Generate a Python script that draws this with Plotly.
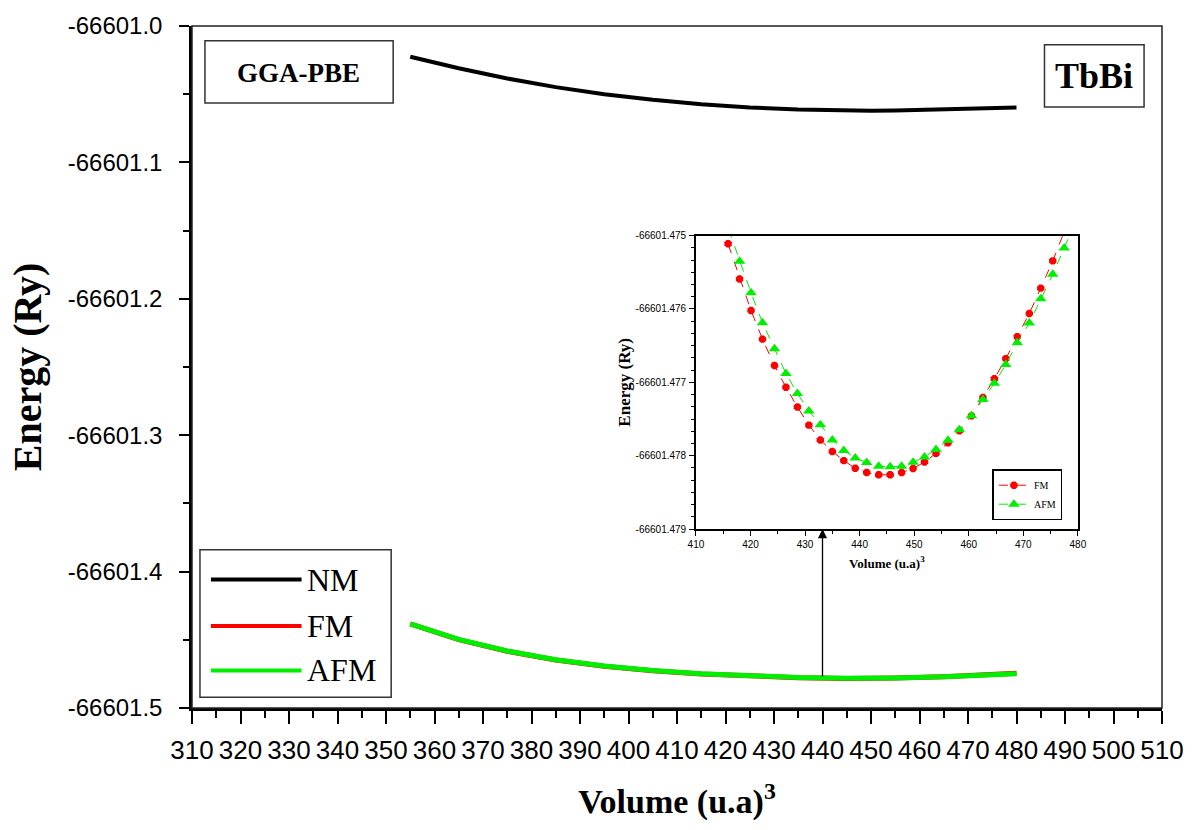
import plotly.graph_objects as go

# ---------------- data ----------------
# main panel: volume (u.a)^3 and energy (Ry)
vol_main = [355, 365, 375, 385, 395, 405, 415, 425, 435, 445, 450, 455, 465, 475, 480]
e_nm = [-66601.0225, -66601.0310, -66601.0385, -66601.0448, -66601.0500, -66601.0541,
        -66601.0573, -66601.0597, -66601.0612, -66601.0620, -66601.0622, -66601.0620,
        -66601.0612, -66601.0602, -66601.0597]
e_fm = [-66601.4384, -66601.4499, -66601.4584, -66601.4648, -66601.4694, -66601.4727,
        -66601.4750, -66601.4767, -66601.4778, -66601.4783, -66601.4783, -66601.4780,
        -66601.4770, -66601.4754, -66601.4745]
e_afm = [-66601.4384, -66601.4497, -66601.4582, -66601.4646, -66601.4692, -66601.4725,
         -66601.4748, -66601.4765, -66601.4777, -66601.4782, -66601.4782, -66601.4780,
         -66601.4771, -66601.4756, -66601.4748]

# inset panel
vol_inset = [413.8, 415.9, 418.0, 420.1, 422.2, 424.4, 426.5, 428.6, 430.7, 432.8, 435.0,
             437.1, 439.2, 441.3, 443.5, 445.6, 447.7, 449.8, 451.9, 454.0, 456.2,
             458.3, 460.5, 462.6, 464.7, 466.8, 468.9, 471.1, 473.2, 475.4, 477.5, 479.6]
e_fm_inset = [-66601.474660, -66601.475112, -66601.475592, -66601.476022, -66601.476412,
              -66601.476771, -66601.477067, -66601.477336, -66601.477583, -66601.477785,
              -66601.477942, -66601.478067, -66601.478170, -66601.478228, -66601.478260,
              -66601.478260, -66601.478228, -66601.478175, -66601.478085, -66601.477968,
              -66601.477825, -66601.477659, -66601.477457, -66601.477206, -66601.476951,
              -66601.476677, -66601.476377, -66601.476063, -66601.475717, -66601.475345,
              -66601.474950, -66601.474520]
e_afm_inset = [-66601.474450, -66601.474900, -66601.475350, -66601.475780, -66601.476188,
               -66601.476543, -66601.476879, -66601.477152, -66601.477390, -66601.477578,
               -66601.477785, -66601.477928, -66601.478031, -66601.478094, -66601.478143,
               -66601.478152, -66601.478143, -66601.478089, -66601.478018, -66601.477915,
               -66601.477789, -66601.477646, -66601.477457, -66601.477233, -66601.477013,
               -66601.476758, -66601.476462, -66601.476193, -66601.475861, -66601.475529,
               -66601.475170, -66601.474800]

y_tick_vals = [-66601.5, -66601.4, -66601.3, -66601.2, -66601.1, -66601.0]
y_tick_text = ["-66601.5", "-66601.4", "-66601.3", "-66601.2", "-66601.1", "-66601.0"]
y2_tick_vals = [-66601.479, -66601.478, -66601.477, -66601.476, -66601.475]
y2_tick_text = ["-66601.479", "-66601.478", "-66601.477", "-66601.476", "-66601.475"]

arrow_volume = 440
arrow_from = -66601.478
arrow_to = -66601.3688

SERIF = "Liberation Serif, Times New Roman, serif"
SANS = "Liberation Sans, Arial, sans-serif"

fig = go.Figure()

fig.add_trace(go.Scatter(x=vol_main, y=e_nm, mode="lines", name="NM",
                         line=dict(color="black", width=4), showlegend=False))
fig.add_trace(go.Scatter(x=vol_main, y=e_fm, mode="lines", name="FM",
                         line=dict(color="#ff0000", width=5), showlegend=False))
fig.add_trace(go.Scatter(x=vol_main, y=e_afm, mode="lines", name="AFM",
                         line=dict(color="#00ee00", width=5), showlegend=False))

fig.add_trace(go.Scatter(x=vol_inset, y=e_fm_inset, mode="lines+markers", name="FM",
                         xaxis="x2", yaxis="y2", legend="legend2", cliponaxis=True,
                         line=dict(color="#ff0000", width=1, dash="dash"),
                         marker=dict(symbol="octagon", size=8, color="#ff0000")))
fig.add_trace(go.Scatter(x=vol_inset, y=e_afm_inset, mode="lines+markers", name="AFM",
                         xaxis="x2", yaxis="y2", legend="legend2", cliponaxis=True,
                         line=dict(color="#00ee00", width=1, dash="dash"),
                         marker=dict(symbol="triangle-up", size=10, color="#00ee00")))

# paper-coordinate helpers (plot area px 192..1166 x 18..708)
def px(xp):
    return (xp - 192) / 974.0

def py(yp):
    return (708 - yp) / 690.0

shapes = [
    dict(type="rect", xref="paper", yref="paper", x0=0, x1=1, y0=0, y1=1,
         line=dict(color="#222", width=1.5)),
    dict(type="rect", xref="paper", yref="paper", x0=px(205), x1=px(394), y0=py(96), y1=py(33),
         line=dict(color="#333", width=1.5)),
    dict(type="rect", xref="paper", yref="paper", x0=px(1048), x1=px(1148), y0=py(100), y1=py(37),
         line=dict(color="#333", width=1.5)),
    dict(type="rect", xref="paper", yref="paper", x0=px(200), x1=px(392), y0=py(697), y1=py(548),
         line=dict(color="#333", width=1.5)),
]
legend_items = [("NM", "black", 578), ("FM", "#ff0000", 625), ("AFM", "#00ee00", 670)]
annotations = []
for name, col, yp in legend_items:
    shapes.append(dict(type="line", xref="paper", yref="paper", x0=px(211), x1=px(302),
                       y0=py(yp), y1=py(yp), line=dict(color=col, width=4)))
    annotations.append(dict(xref="paper", yref="paper", x=px(305), y=py(yp), text=name,
                            showarrow=False, xanchor="left", yanchor="middle",
                            font=dict(family=SERIF, size=32, color="black")))

annotations += [
    dict(xref="paper", yref="paper", x=px(299), y=py(66), text="<b>GGA-PBE</b>",
         showarrow=False, xanchor="center", yanchor="middle",
         font=dict(family=SERIF, size=27, color="black")),
    dict(xref="paper", yref="paper", x=px(1098), y=py(69), text="<b>TbBi</b>",
         showarrow=False, xanchor="center", yanchor="middle",
         font=dict(family=SERIF, size=36, color="black")),
    dict(x=arrow_volume, y=arrow_to, ax=arrow_volume, ay=arrow_from, xref="x", yref="y",
         axref="x", ayref="y", text="", showarrow=True, arrowhead=2, arrowsize=1.4,
         arrowwidth=1.3, arrowcolor="black", standoff=0),
]

fig.update_layout(
    width=1196, height=830,
    margin=dict(l=192, r=30, t=18, b=122),
    paper_bgcolor="white", plot_bgcolor="white",
    shapes=shapes, annotations=annotations,
    xaxis=dict(range=[310, 510], dtick=10, tick0=310, showgrid=False, zeroline=False,
               showline=True, linewidth=2.5, linecolor="black", mirror=False,
               ticks="outside", ticklen=13, tickwidth=2.2, tickcolor="black",
               ticklabelstandoff=4,
               minor=dict(ticks="outside", ticklen=7, tickwidth=2, tickcolor="black",
                          dtick=5, tick0=310),
               tickfont=dict(family=SANS, size=26, color="black"),
               title=dict(text="<b>Volume (u.a)<sup>3</sup></b>", standoff=26,
                          font=dict(family=SERIF, size=34, color="black"))),
    yaxis=dict(range=[-66601.5, -66601.0], tickmode="array", tickvals=y_tick_vals,
               ticktext=y_tick_text, showgrid=False, zeroline=False,
               showline=True, linewidth=2.5, linecolor="black", mirror=False,
               ticks="outside", ticklen=10, tickwidth=2, tickcolor="black",
               ticklabelstandoff=12,
               minor=dict(ticks="outside", ticklen=6, tickwidth=2, tickcolor="black",
                          tickmode="linear", dtick=0.05, tick0=-66601.5),
               tickfont=dict(family=SANS, size=24, color="black"),
               title=dict(text="<b>Energy (Ry)</b>", standoff=14,
                          font=dict(family=SERIF, size=40, color="black"))),
    xaxis2=dict(domain=[px(698), px(1081.5)], anchor="y2", range=[410, 480], dtick=10,
                showgrid=False, zeroline=False, showline=True, linewidth=1.5,
                linecolor="black", mirror=True, ticks="outside", ticklen=5, tickwidth=1.2,
                tickcolor="black",
                minor=dict(ticks="outside", ticklen=3, tickwidth=1, dtick=5, tick0=410,
                           tickcolor="black"),
                tickfont=dict(family=SANS, size=10, color="black"),
                title=dict(text="<b>Volume (u.a)<sup>3</sup></b>", standoff=10,
                           font=dict(family=SERIF, size=13, color="black"))),
    yaxis2=dict(domain=[py(527), py(230)], anchor="x2", range=[-66601.479, -66601.475],
                tickmode="array", tickvals=y2_tick_vals, ticktext=y2_tick_text,
                showgrid=False, zeroline=False, showline=True, linewidth=1.5,
                linecolor="black", mirror=True, ticks="outside", ticklen=5, tickwidth=1.2,
                tickcolor="black", ticklabelstandoff=1,
                minor=dict(ticks="outside", ticklen=3, tickwidth=1, tickmode="linear",
                           dtick=0.001 / 6, tick0=-66601.479, tickcolor="black"),
                tickfont=dict(family=SANS, size=10, color="black"),
                title=dict(text="<b>Energy (Ry)</b>", standoff=1,
                           font=dict(family=SERIF, size=17, color="black"))),
    legend2=dict(x=px(1066), y=py(518), xanchor="right", yanchor="bottom",
                 xref="paper", yref="paper", bgcolor="white", bordercolor="black",
                 borderwidth=1.5, font=dict(family=SERIF, size=10, color="black"),
                 itemwidth=30, tracegroupgap=2),
)

fig.write_html("out.html")
